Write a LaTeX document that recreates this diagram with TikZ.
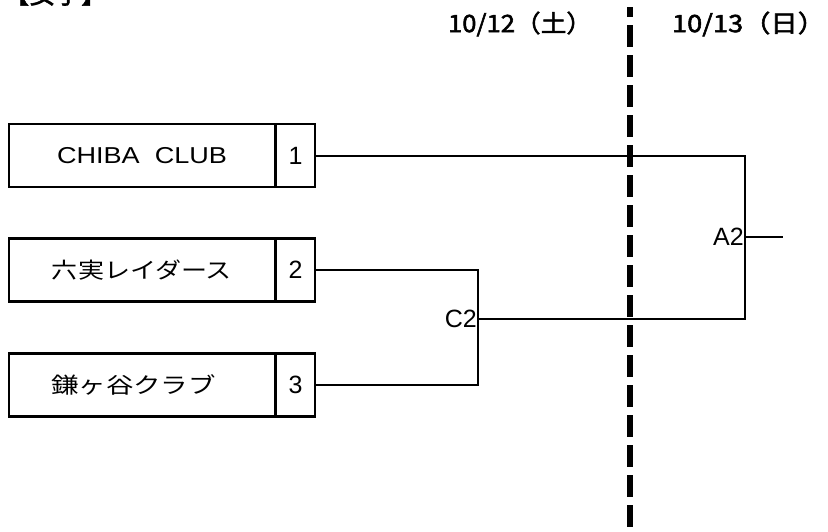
\documentclass[tikz,border=0pt]{standalone}
\usepackage{graphicx}
\usepackage{fontspec}
\setmainfont{Liberation Sans}
\newfontfamily\jp{Noto Sans CJK JP}
\newfontfamily\jpb[FakeBold=2]{Noto Sans CJK JP}
\newcommand{\stretchto}[2]{\resizebox{#1}{\height}{#2}}
\begin{document}
\begin{tikzpicture}[x=1pt,y=1pt,
  line/.style={line width=2pt},
  boxbase/.style={draw,line width=2.4pt,minimum height=63pt,inner sep=0pt,font=\fontsize{23}{26}\selectfont},
  teambox/.style={boxbase,minimum width=266pt},
  seedbox/.style={boxbase,minimum width=39pt,font=\fontsize{25}{28}\selectfont},
  matchlab/.style={anchor=east,inner sep=1pt,font=\fontsize{25}{28}\selectfont},
  datelab/.style={inner sep=0pt,font=\jpb\fontsize{24}{28}\selectfont},
  divider/.style={line width=6pt,dash pattern=on 22pt off 8pt,dash phase=12pt}]
\useasboundingbox (0,0) rectangle (828,-531);
% clipped title
\begin{scope}
\clip (0,0) rectangle (828,-531);
\node[anchor=base west,inner sep=0pt,font=\jpb\fontsize{26}{28}\selectfont] (title) at (3,-3.4) {【女子】};
\end{scope}
% dates
\node[datelab] (d1) at (520,-24) {\stretchto{144pt}{10/12（土）}};
\node[datelab] (d2) at (748.5,-24) {\stretchto{153pt}{10/13（日）}};
% divider
\coordinate (divtop) at (630,-7);
\coordinate (divbot) at (630,-529);
\draw[divider] (divtop) -- (divbot);
% teams
\node[teambox] (t1) at (142,-155.5) {\stretchto{170pt}{CHIBA\ \ CLUB}};
\node[seedbox] (s1) at (295.5,-155.5) {1};
\node[teambox] (t2) at (142,-270) {\jp\fontsize{22}{25}\selectfont\stretchto{180pt}{六実レイダース}};
\node[seedbox] (s2) at (295.5,-270) {2};
\node[teambox] (t3) at (142,-385) {\jp\fontsize{22}{25}\selectfont\stretchto{165pt}{鎌ヶ谷クラブ}\hspace*{17pt}};
\node[seedbox] (s3) at (295.5,-385) {3};
% matches
\coordinate (C2) at (478,-319);
\coordinate (A2) at (745,-237);
\coordinate (A2out) at (783,-237);
\draw[line] (s2.east) -| (C2) |- (s3.east);
\node[matchlab] (C2lab) at (C2) {C2};
\draw[line] (s1.east) -| (A2) |- (C2);
\node[matchlab] (A2lab) at (A2) {A2};
\draw[line] (A2) -- (A2out);
\end{tikzpicture}
\end{document}
